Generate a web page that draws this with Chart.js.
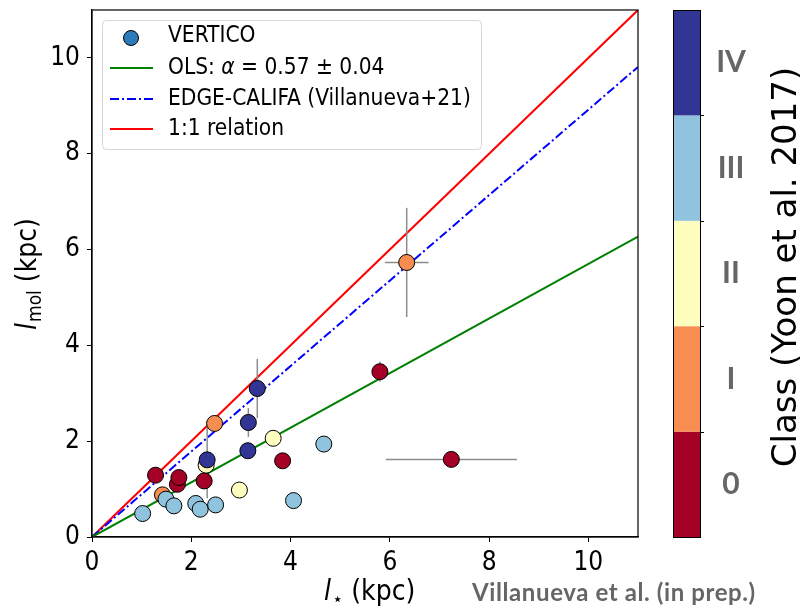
<!DOCTYPE html>
<html><head><meta charset="utf-8">
<script src="https://cdn.jsdelivr.net/npm/chart.js@4.4.1/dist/chart.umd.min.js"></script>
<style>html,body{margin:0;padding:0;background:#fff;}canvas{display:block}</style>
</head><body>
<div style="width:802px;height:608px;position:relative"><canvas id="c" width="802" height="608"></canvas></div>
<script>
// ---- data ----
const lstar = [1.02, 1.42, 1.49, 1.65, 1.28, 1.72, 1.75, 2.09, 2.18, 2.49, 2.26, 2.97, 2.30, 2.32, 2.47, 3.14, 3.15, 3.33, 3.65, 4.67, 3.84, 4.06, 5.80, 6.34, 7.24];
const lmol  = [0.49, 0.88, 0.79, 0.65, 1.29, 1.10, 1.24, 0.70, 0.58, 0.67, 1.17, 0.98, 1.50, 1.61, 2.37, 1.80, 2.39, 3.10, 2.06, 1.94, 1.59, 0.76, 3.45, 5.73, 1.62];
const xerr  = [0, 0, 0, 0, 0, 0, 0, 0, 0, 0, 0, 0, 0, 0, 0, 0, 0, 0.17, 0, 0, 0, 0, 0.16, 0.44, 1.32];
const yerr  = [0, 0, 0, 0, 0, 0, 0, 0, 0, 0, 0, 0, 0, 0.80, 0, 0, 0.30, 0.62, 0, 0, 0, 0, 0.21, 1.14, 0];
const cls   = [3, 1, 3, 3, 0, 0, 0, 3, 3, 3, 0, 2, 2, 4, 1, 4, 4, 4, 2, 3, 0, 3, 0, 1, 0];
const classNames  = ['0', 'I', 'II', 'III', 'IV'];
const classColors = ['#a50026', '#f88d52', '#feffbe', '#90c3dd', '#313695'];
const xTicks = [0, 2, 4, 6, 8, 10];
const yTicks = [0, 2, 4, 6, 8, 10];
const axisMax = 11;
const olsSlope = 0.57;
const edgeSlope = 0.892;
const oneSlope = 1.0;
const lineX = [0, 11];

const CF = '"DejaVu Sans Condensed", "DejaVu Sans", sans-serif';
const RF = '"DejaVu Sans", sans-serif';

const extras = {
  id: 'extras',
  beforeDatasetDraw(chart, args) {
    if (args.index !== 0) return;
    const ctx = chart.ctx, xs = chart.scales.x, ys = chart.scales.y;
    ctx.save();
    ctx.strokeStyle = '#8c8c8c';
    ctx.lineWidth = 1.5;
    for (let i = 0; i < lstar.length; i++) {
      const px = xs.getPixelForValue(lstar[i]), py = ys.getPixelForValue(lmol[i]);
      if (xerr[i] > 0) {
        ctx.beginPath();
        ctx.moveTo(xs.getPixelForValue(lstar[i] - xerr[i]), py);
        ctx.lineTo(xs.getPixelForValue(lstar[i] + xerr[i]), py);
        ctx.stroke();
      }
      if (yerr[i] > 0) {
        ctx.beginPath();
        ctx.moveTo(px, ys.getPixelForValue(lmol[i] - yerr[i]));
        ctx.lineTo(px, ys.getPixelForValue(lmol[i] + yerr[i]));
        ctx.stroke();
      }
    }
    ctx.restore();
  },
  afterDraw(chart) {
    const ctx = chart.ctx, a = chart.chartArea;
    ctx.save();
    // frame
    ctx.strokeStyle = '#000'; ctx.lineWidth = 1.2;
    ctx.strokeRect(a.left, a.top, a.right - a.left, a.bottom - a.top);

    // legend
    const L = {x: 102.5, y: 20.5, w: 379, h: 129};
    ctx.fillStyle = 'rgba(255,255,255,0.85)';
    ctx.strokeStyle = '#d6d6d6'; ctx.lineWidth = 1;
    ctx.beginPath(); ctx.roundRect(L.x, L.y, L.w, L.h, 4); ctx.fill(); ctx.stroke();
    ctx.fillStyle = '#000';
    ctx.textBaseline = 'middle'; ctx.textAlign = 'left';
    const lf = '22.5px ' + CF;
    ctx.font = lf;
    // row 1 marker
    ctx.beginPath(); ctx.arc(131, 38, 7.5, 0, Math.PI * 2);
    ctx.fillStyle = '#2d7bb8'; ctx.fill(); ctx.strokeStyle = '#000'; ctx.lineWidth = 1; ctx.stroke();
    ctx.fillStyle = '#000';
    ctx.fillText('VERTICO', 168, 36);
    // row 2
    ctx.strokeStyle = '#008000'; ctx.lineWidth = 2;
    ctx.beginPath(); ctx.moveTo(110, 68); ctx.lineTo(153, 68); ctx.stroke();
    let tx = 168;
    ctx.fillText('OLS: ', tx, 68); tx += ctx.measureText('OLS: ').width;
    ctx.font = 'italic 22.5px ' + CF;
    ctx.fillText('α', tx, 68); tx += ctx.measureText('α').width;
    ctx.font = lf;
    ctx.fillText(' = 0.57 ± 0.04', tx, 68);
    // row 3
    ctx.strokeStyle = '#0000ff'; ctx.lineWidth = 2; ctx.setLineDash([9, 3, 2, 3]);
    ctx.beginPath(); ctx.moveTo(110, 99); ctx.lineTo(153, 99); ctx.stroke();
    ctx.setLineDash([]);
    ctx.fillText('EDGE-CALIFA (Villanueva+21)', 168, 99);
    // row 4
    ctx.strokeStyle = '#ff0000'; ctx.lineWidth = 2;
    ctx.beginPath(); ctx.moveTo(110, 129); ctx.lineTo(153, 129); ctx.stroke();
    ctx.fillText('1:1 relation', 168, 129);

    // x title
    ctx.textBaseline = 'alphabetic';
    ctx.font = 'italic 28px ' + CF;
    let xx = 324;
    ctx.fillText('l', xx, 600); xx += ctx.measureText('l').width + 1;
    ctx.font = '18px ' + RF;
    ctx.fillText('⋆', xx, 605); xx += ctx.measureText('⋆').width;
    ctx.font = '28px ' + CF;
    ctx.fillText(' (kpc)', xx, 600);

    // y title (rotated)
    ctx.save();
    ctx.translate(36, 330);
    ctx.rotate(-Math.PI / 2);
    ctx.font = 'italic 28px ' + CF;
    let yy = 0;
    ctx.fillText('l', yy, 0); yy += ctx.measureText('l').width + 1;
    ctx.font = '19px ' + CF;
    ctx.fillText('mol', yy, 5); yy += ctx.measureText('mol').width;
    ctx.font = '28px ' + CF;
    ctx.fillText(' (kpc)', yy, 0);
    ctx.restore();

    // colorbar
    const cb = chart.scales.cb;
    const cx0 = 673, cx1 = 700;
    for (let k = 0; k < classColors.length; k++) {
      const y0 = cb.getPixelForValue(k), y1 = cb.getPixelForValue(k + 1);
      ctx.fillStyle = classColors[k];
      ctx.fillRect(cx0, y1, cx1 - cx0, y0 - y1);
    }
    ctx.strokeStyle = '#000'; ctx.lineWidth = 1;
    ctx.strokeRect(cx0 + 0.5, cb.getPixelForValue(5) + 0.5, cx1 - cx0, cb.getPixelForValue(0) - cb.getPixelForValue(5));
    for (let k = 1; k < classColors.length; k++) {
      const y = Math.round(cb.getPixelForValue(k)) + 0.5;
      ctx.beginPath(); ctx.moveTo(cx1, y); ctx.lineTo(cx1 + 4, y); ctx.stroke();
    }
    ctx.fillStyle = '#666';
    ctx.font = 'bold 30px Lato, "Open Sans", sans-serif';
    ctx.textAlign = 'center'; ctx.textBaseline = 'middle';
    for (let k = 0; k < classNames.length; k++) {
      ctx.fillText(classNames[k], 731, cb.getPixelForValue(k + 0.5));
    }
    // colorbar title
    ctx.save();
    ctx.translate(796, 267);
    ctx.rotate(-Math.PI / 2);
    ctx.fillStyle = '#000';
    ctx.font = '34px ' + RF;
    ctx.textAlign = 'center'; ctx.textBaseline = 'alphabetic';
    ctx.fillText('Class (Yoon et al. 2017)', 0, 0);
    ctx.restore();

    // footer credit
    ctx.fillStyle = '#666';
    ctx.font = 'bold 24px Lato, "Open Sans", sans-serif';
    ctx.letterSpacing = '0.6px';
    ctx.textAlign = 'left'; ctx.textBaseline = 'alphabetic';
    ctx.fillText('Villanueva et al. (in prep.)', 472, 601);
    ctx.letterSpacing = '0px';
    ctx.restore();
  }
};

const tickFont = {family: CF, size: 26};
new Chart(document.getElementById('c'), {
  type: 'scatter',
  data: {
    datasets: [
      {
        label: 'VERTICO',
        data: lstar.map((x, i) => ({x: x, y: lmol[i]})),
        backgroundColor: cls.map(c => classColors[c]),
        borderColor: '#000', borderWidth: 1,
        pointRadius: 8, pointHoverRadius: 8
      },
      {
        type: 'line', label: 'OLS',
        data: lineX.map(x => ({x: x, y: x * olsSlope})),
        borderColor: '#008000', borderWidth: 2, pointRadius: 0, fill: false
      },
      {
        type: 'line', label: 'EDGE-CALIFA',
        data: lineX.map(x => ({x: x, y: x * edgeSlope})),
        borderColor: '#0000ff', borderWidth: 2, borderDash: [9, 3, 2, 3], pointRadius: 0, fill: false
      },
      {
        type: 'line', label: '1:1',
        data: lineX.map(x => ({x: x, y: x * oneSlope})),
        borderColor: '#ff0000', borderWidth: 2, pointRadius: 0, fill: false
      }
    ]
  },
  options: {
    responsive: false, animation: false, devicePixelRatio: 1,
    layout: {padding: {top: 10, right: 164, left: 0, bottom: 0}},
    plugins: {legend: {display: false}, tooltip: {enabled: false}},
    scales: {
      x: {
        type: 'linear', min: 0, max: axisMax,
        afterBuildTicks: s => { s.ticks = xTicks.map(v => ({value: v})); },
        afterFit: s => { s.height = 71; s.paddingLeft = 0; s.paddingRight = 0; },
        ticks: {font: tickFont, color: '#000', padding: 6},
        grid: {drawOnChartArea: false, drawTicks: true, tickLength: 5, color: '#000'},
        border: {display: true, color: '#000', width: 1.2}
      },
      y: {
        type: 'linear', min: 0, max: axisMax,
        afterBuildTicks: s => { s.ticks = yTicks.map(v => ({value: v})); },
        afterFit: s => { s.width = 92; s.paddingTop = 0; s.paddingBottom = 0; },
        ticks: {font: tickFont, color: '#000', padding: 7},
        grid: {drawOnChartArea: false, drawTicks: true, tickLength: 5, color: '#000'},
        border: {display: true, color: '#000', width: 1.2}
      },
      cb: {type: 'linear', position: 'right', display: false, min: 0, max: 5}
    }
  },
  plugins: [extras]
});
</script>
</body></html>
